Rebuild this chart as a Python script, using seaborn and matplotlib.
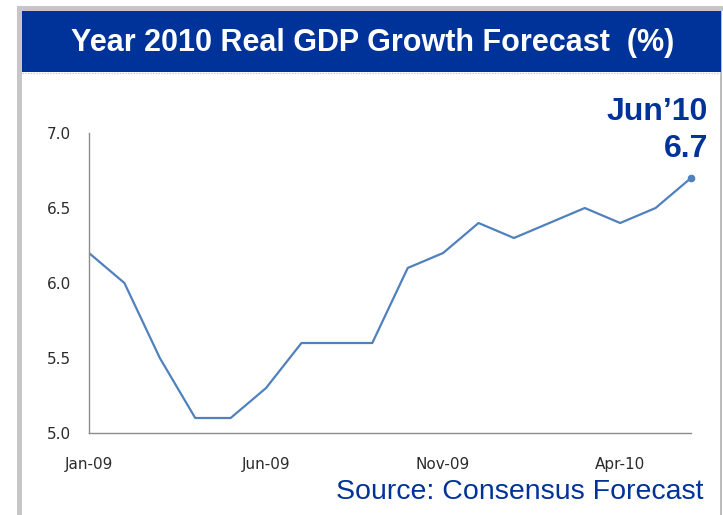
import matplotlib
matplotlib.use("Agg")
import matplotlib.pyplot as plt
import seaborn as sns
import pandas as pd
from matplotlib.patches import Rectangle
from matplotlib.lines import Line2D

months = ["Jan-09", "Feb-09", "Mar-09", "Apr-09", "May-09", "Jun-09", "Jul-09", "Aug-09",
          "Sep-09", "Oct-09", "Nov-09", "Dec-09", "Jan-10", "Feb-10", "Mar-10", "Apr-10",
          "May-10", "Jun-10"]
forecast = [6.2, 6.0, 5.5, 5.1, 5.1, 5.3, 5.6, 5.6, 5.6, 6.1, 6.2, 6.4, 6.3, 6.4, 6.5, 6.4, 6.5, 6.7]
tick_labels = ["Jan-09", "Jun-09", "Nov-09", "Apr-10"]
yticks = [5.0, 5.5, 6.0, 6.5, 7.0]
title = "Year 2010 Real GDP Growth Forecast  (%)"
last_label = "Jun\u201910"
source = "Source: Consensus Forecast"

df = pd.DataFrame({"idx": range(len(months)), "month": months, "value": forecast})

sns.set_style("white")
plt.rcParams["font.family"] = ["DejaVu Sans"]

W, H = 723, 515
fig = plt.figure(figsize=(W / 100, H / 100), dpi=100)
fig.patch.set_facecolor("white")

def fx(px):
    return px / W

def fy(py):
    return 1 - py / H

# outer frame
fig.patches.append(Rectangle((fx(17), 0), fx(5), fy(6), transform=fig.transFigure,
                             facecolor="#c6c6c6", edgecolor="none", zorder=0))
fig.patches.append(Rectangle((fx(17), fy(11)), fx(706), fy(6) - fy(11), transform=fig.transFigure,
                             facecolor="#c6c6c6", edgecolor="none", zorder=0))
fig.patches.append(Rectangle((fx(720), 0), fx(1.5), fy(11), transform=fig.transFigure,
                             facecolor="#bcbcbc", edgecolor="none", zorder=0))
# banner
fig.patches.append(Rectangle((fx(22), fy(72)), fx(699), fy(11) - fy(72), transform=fig.transFigure,
                             facecolor="#003399", edgecolor="none", zorder=1))
fig.lines.append(Line2D([fx(22), fx(721)], [fy(73), fy(73)], transform=fig.transFigure,
                        color="#c8c8c8", lw=1, ls=(0, (1, 1))))
fig.text(fx(373), fy(51), title, color="white", fontsize=22, fontweight="bold",
         family=["Liberation Sans", "DejaVu Sans"], ha="center", va="baseline")

ax = fig.add_axes([fx(89), fy(433), fx(691) - fx(89), fy(133) - fy(433)])
sns.lineplot(data=df, x="idx", y="value", ax=ax, color="#4F81BD", lw=1.6)
ax.plot(df["idx"].iloc[-1], df["value"].iloc[-1], "o", color="#4F81BD", ms=4.5, clip_on=False)

ax.set_xlim(0, len(months) - 1)
ax.set_ylim(5.0, 7.0)
ax.set_yticks(yticks)
ax.set_yticklabels([f"{v:.1f}" for v in yticks])
ax.set_xticks([months.index(m) for m in tick_labels])
ax.set_xticklabels(tick_labels)
ax.set_xlabel("")
ax.set_ylabel("")
for s in ["top", "right"]:
    ax.spines[s].set_visible(False)
for s in ["left", "bottom"]:
    ax.spines[s].set_color("#8c8c8c")
    ax.spines[s].set_linewidth(1)
ax.tick_params(axis="y", direction="out", length=4, width=1, color="#8c8c8c", pad=9,
               labelsize=11, labelcolor="#2b2b2b")
ax.tick_params(axis="x", direction="out", length=4, width=1, color="#8c8c8c", pad=13,
               labelsize=11, labelcolor="#2b2b2b")
ax.set_facecolor("white")

fig.text(fx(708), fy(120), last_label, color="#003399", fontsize=23, fontweight="bold",
         family=["Liberation Sans", "DejaVu Sans"], ha="right", va="baseline")
fig.text(fx(708), fy(157), f"{forecast[-1]:.1f}", color="#003399", fontsize=23, fontweight="bold",
         family=["Liberation Sans", "DejaVu Sans"], ha="right", va="baseline")
fig.text(fx(703), fy(499), source, color="#003399", fontsize=20.5,
         family=["Liberation Sans", "DejaVu Sans"], ha="right", va="baseline")

fig.savefig("out.png", dpi=100)
